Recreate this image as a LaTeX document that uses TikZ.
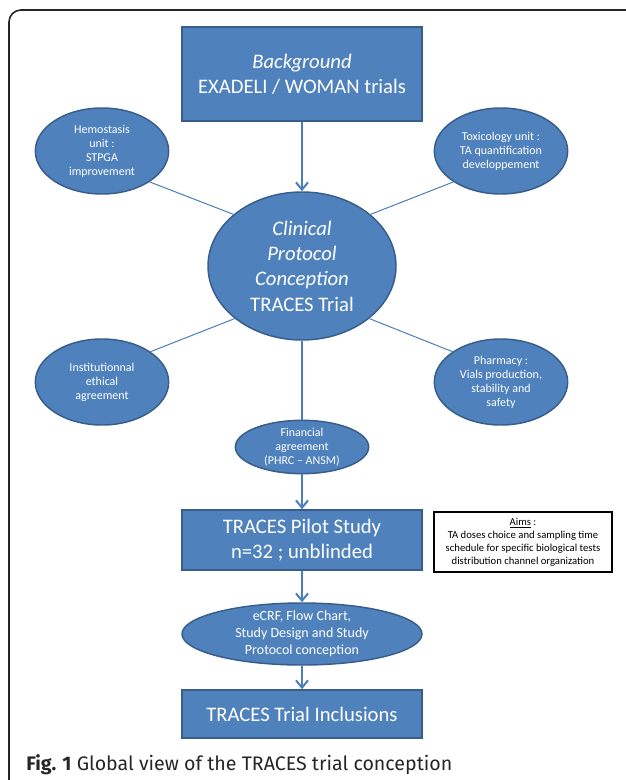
\documentclass[tikz,border=0pt]{standalone}
\usepackage{fontspec}
\setmainfont{Carlito}
\newfontfamily\captionfont{Fira Sans}
\usetikzlibrary{shapes.geometric,arrows.meta}
\definecolor{boxblue}{HTML}{4F81BD}
\definecolor{boxedge}{HTML}{385D8A}
\definecolor{linkblue}{HTML}{4A7EBB}

\begin{document}
\begin{tikzpicture}[x=0.75pt,y=-0.75pt,
		% Stile per i rettangoli blu
		box style/.style={rectangle, fill=boxblue, draw=boxedge, line width=1.1pt, text=white, align=center, inner sep=0pt, minimum width=180pt},
		% Stile per le ellissi blu
		oval style/.style={ellipse, fill=boxblue, draw=boxedge, line width=1.1pt, text=white, align=center, inner sep=-3pt},
		big text/.style={font=\fontsize{15.5}{19}\selectfont},
		small text/.style={font=\fontsize{9}{10.5}\selectfont},
		% Stile per le linee (archi)
		edge style/.style={line width=0.75pt, color=linkblue},
		arrow style/.style={line width=1.5pt, color=linkblue, -{Straight Barb[length=5.5pt,width=9pt]}}
	]
	\useasboundingbox (0,0) rectangle (625,780);

	% cornice
	\draw[line width=1.2pt, color=black!85, rounded corners=9pt] (9,782) |- (627,10);

	% =================================
	% LIVELLO 1 (In alto)
	% =================================
	\node[box style, big text, minimum height=70.5pt] (bg) at (302,74) {\textit{Background}\\EXADELI / WOMAN trials};

	% =================================
	% CENTRO
	% =================================
	\node[oval style, big text, minimum width=141pt, minimum height=111pt] (clin) at (302,266)
		{\textit{Clinical}\\\textit{Protocol}\\\textit{Conception}\\TRACES Trial};

	% ellissi laterali
	\node[oval style, small text, minimum width=100pt, minimum height=64.5pt] (hemo) at (102,151) {Hemostasis\\unit :\\STPGA\\improvement};
	\node[oval style, small text, minimum width=100pt, minimum height=64.5pt] (tox) at (501,151) {Toxicology unit :\\TA quantification\\developpement};
	\node[oval style, small text, minimum width=100pt, minimum height=64.5pt] (inst) at (102,382) {Institutionnal\\ethical\\agreement};
	\node[oval style, small text, minimum width=100pt, minimum height=64.5pt] (pharm) at (501,382) {Pharmacy :\\Vials production,\\stability and\\safety};
	\node[oval style, small text, minimum width=100pt, minimum height=40pt] (fin) at (302,447) {Financial\\agreement\\(PHRC -- ANSM)};

	% =================================
	% LIVELLI IN BASSO
	% =================================
	\node[box style, big text, minimum height=45pt] (pilot) at (302,540) {TRACES Pilot Study\\n=32 ; unblinded};
	\node[rectangle, draw=black, line width=0.8pt, fill=white, align=center, inner sep=0pt, minimum width=133.5pt, minimum height=45pt,
		font=\fontsize{8}{9.75}\selectfont] (aims) at (523,542)
		{\underline{Aims} :\\TA doses choice and sampling time\\schedule for specific biological tests\\distribution channel organization};
	\node[oval style, font=\fontsize{10.5}{12.75}\selectfont, minimum width=180pt, minimum height=46.5pt] (ecrf) at (302,634)
		{eCRF, Flow Chart,\\Study Design and Study\\Protocol conception};
	\node[box style, big text, minimum height=36pt] (incl) at (302,714) {TRACES Trial Inclusions};

	% didascalia
	\node[anchor=base west, inner sep=0pt, text=black!85, font=\captionfont\fontsize{14.7}{16}\selectfont] (caption) at (26,770)
		{\textbf{Fig. 1} Global view of the TRACES trial conception};

	% =================================
	% CONNESSIONI (Archi)
	% =================================
	\draw[arrow style] (bg) -- (clin);
	\draw[edge style] (hemo.-33) -- (clin.143);
	\draw[edge style] (tox.213) -- (clin.37);
	\draw[edge style] (inst.32) -- (clin.218);
	\draw[edge style] (pharm.148) -- (clin.322);
	\draw[line width=1.5pt, color=linkblue] (clin) -- (fin);
	\draw[arrow style] (fin) -- (pilot);
	\draw[arrow style] (pilot) -- (ecrf);
	\draw[arrow style] (ecrf) -- (incl);

\end{tikzpicture}
\end{document}
